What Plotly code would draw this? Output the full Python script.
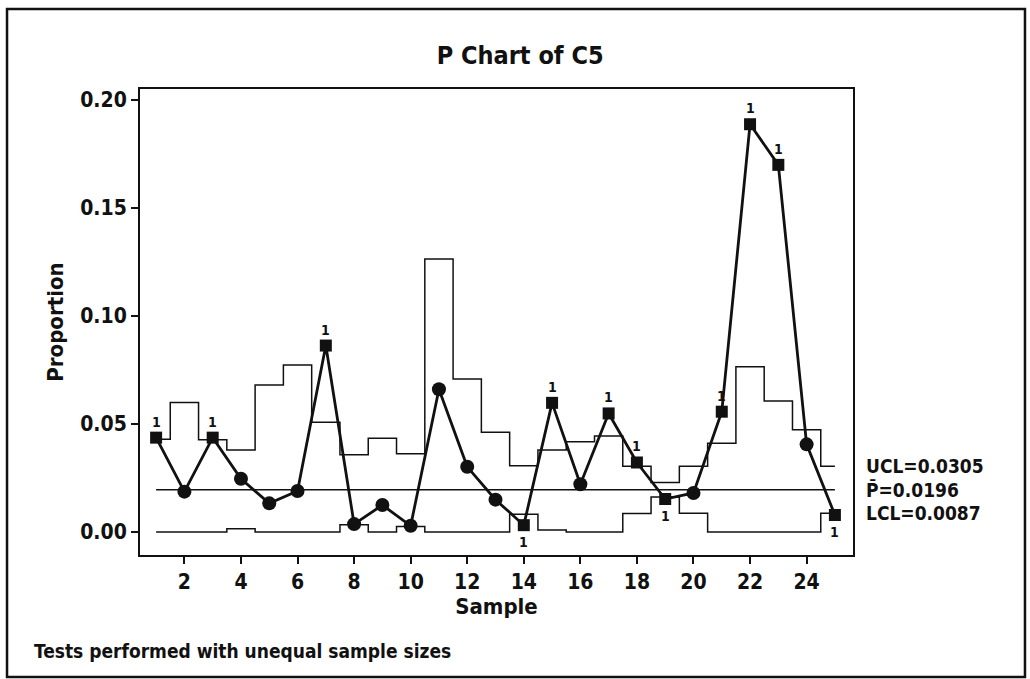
import plotly.graph_objects as go

samples = list(range(1, 26))
proportion = [0.0437, 0.0187, 0.0437, 0.0247, 0.0133, 0.0190, 0.0863, 0.0037, 0.0125, 0.0029,
              0.0661, 0.0302, 0.0150, 0.0032, 0.0598, 0.0221, 0.0549, 0.0322, 0.0153, 0.0181,
              0.0557, 0.1887, 0.1699, 0.0406, 0.0079]
ucl = [0.0429, 0.0599, 0.0427, 0.0380, 0.0680, 0.0773, 0.0508, 0.0358, 0.0434, 0.0362,
       0.1264, 0.0708, 0.0462, 0.0307, 0.0380, 0.0418, 0.0444, 0.0305, 0.0230, 0.0305,
       0.0411, 0.0765, 0.0606, 0.0474, 0.0305]
lcl = [0.0, 0.0, 0.0, 0.0015, 0.0, 0.0, 0.0, 0.0034, 0.0, 0.0026,
       0.0, 0.0, 0.0, 0.0082, 0.0010, 0.0, 0.0, 0.0086, 0.0162, 0.0087,
       0.0, 0.0, 0.0, 0.0, 0.0087]
pbar = 0.0196
x_ticks = [2, 4, 6, 8, 10, 12, 14, 16, 18, 20, 22, 24]
y_ticks = [0.00, 0.05, 0.10, 0.15, 0.20]

FONT = "DejaVu Sans Condensed"
BLACK = "#111111"

above = [p > u for p, u in zip(proportion, ucl)]
below = [p < l for p, l in zip(proportion, lcl)]
ooc = [a or b for a, b in zip(above, below)]

fig = go.Figure()
# control limits
fig.add_trace(go.Scatter(x=samples, y=ucl, mode="lines", line=dict(color=BLACK, width=1.5, shape="hvh"),
                         hoverinfo="skip", showlegend=False))
fig.add_trace(go.Scatter(x=samples, y=lcl, mode="lines", line=dict(color=BLACK, width=1.5, shape="hvh"),
                         hoverinfo="skip", showlegend=False))
fig.add_trace(go.Scatter(x=[samples[0], samples[-1]], y=[pbar, pbar], mode="lines",
                         line=dict(color=BLACK, width=1.3), hoverinfo="skip", showlegend=False))
# data line
fig.add_trace(go.Scatter(x=samples, y=proportion, mode="lines", line=dict(color=BLACK, width=2.8),
                         showlegend=False))
# in-control points
fig.add_trace(go.Scatter(x=[s for s, o in zip(samples, ooc) if not o],
                         y=[p for p, o in zip(proportion, ooc) if not o],
                         mode="markers", marker=dict(symbol="circle", size=14, color=BLACK),
                         showlegend=False))
# out-of-control points
fig.add_trace(go.Scatter(x=[s for s, o in zip(samples, ooc) if o],
                         y=[p for p, o in zip(proportion, ooc) if o],
                         mode="markers", marker=dict(symbol="square", size=12, color=BLACK),
                         showlegend=False))

annotations = []
for s, p, a, b in zip(samples, proportion, above, below):
    if a or b:
        annotations.append(dict(x=s, y=p, text="<b>1</b>", showarrow=False, xref="x", yref="y",
                                yshift=16 if a else -17, font=dict(family=FONT, size=14, color=BLACK)))

for label, val in [("UCL", ucl[-1]), ("P\u0304", pbar), ("LCL", lcl[-1])]:
    annotations.append(dict(x=1, xref="paper", y=val, yref="y", xanchor="left", xshift=11,
                            text=f"<b>{label}={val:.4f}</b>", showarrow=False,
                            font=dict(family=FONT, size=19, color=BLACK)))

annotations.append(dict(x=-0.1515, y=-0.205, xref="paper", yref="paper", xanchor="left", yanchor="middle",
                        text="<b>Tests performed with unequal sample sizes</b>", showarrow=False,
                        font=dict(family=FONT, size=19, color=BLACK)))

fig.update_layout(
    width=1030, height=679,
    margin=dict(l=140, r=177, t=89, b=124),
    paper_bgcolor="white", plot_bgcolor="white",
    title=dict(text="<b>P Chart of C5</b>", x=0.505, xanchor="center", y=0.918, yanchor="middle",
               font=dict(family=FONT, size=25, color=BLACK)),
    font=dict(family=FONT, color=BLACK),
    annotations=annotations,
    shapes=[dict(type="rect", xref="paper", yref="paper", x0=-0.1865, x1=1.2412, y0=-0.2618, y1=1.1717,
                 line=dict(color=BLACK, width=2.5))],
)
fig.update_xaxes(range=[0.43, 25.64], tickvals=x_ticks, ticks="outside", ticklen=7, tickwidth=2,
                 tickcolor=BLACK, showline=True, linecolor=BLACK, linewidth=2, mirror=True,
                 showgrid=False, zeroline=False,
                 tickfont=dict(family=FONT, size=21, color=BLACK, weight="bold"),
                 title=dict(text="<b>Sample</b>", font=dict(family=FONT, size=22, color=BLACK), standoff=2))
fig.update_yaxes(range=[-0.0106, 0.205], tickvals=y_ticks, tickformat=".2f", ticks="outside", ticklen=7,
                 tickwidth=2, tickcolor=BLACK, showline=True, linecolor=BLACK, linewidth=2, mirror=True,
                 showgrid=False, zeroline=False,
                 tickfont=dict(family=FONT, size=21, color=BLACK, weight="bold"),
                 title=dict(text="<b>Proportion</b>", font=dict(family=FONT, size=22, color=BLACK), standoff=10))

fig.write_html("out.html", config={"displayModeBar": False},
               post_script="document.body.style.margin='0';")
